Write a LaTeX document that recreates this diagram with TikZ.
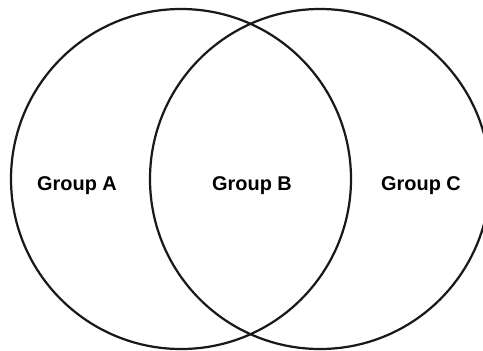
\documentclass[tikz,border=0pt]{standalone}
\usepackage{fontspec}
\setmainfont{Liberation Sans}
\begin{document}
\begin{tikzpicture}[x=0.03cm, y=-0.03cm,
        setline/.style={draw=black!90, line width=1.9pt},
        grouplabel/.style={font=\fontsize{17}{20}\selectfont\bfseries, inner sep=0pt, anchor=base}
        ]
        \useasboundingbox (0,0) rectangle (483,350);
        % the two sets
        \coordinate (left) at (181,179);
        \coordinate (right) at (320,179);
        \draw[setline] (left) circle[radius=5.1cm];
        \draw[setline] (right) circle[radius=5.1cm];
        % labels
        \node[grouplabel] (groupA) at (77,190) {Group A};
        \node[grouplabel] (groupB) at (252,190) {Group B};
        \node[grouplabel] (groupC) at (421,190) {Group C};
      \end{tikzpicture}
\end{document}
